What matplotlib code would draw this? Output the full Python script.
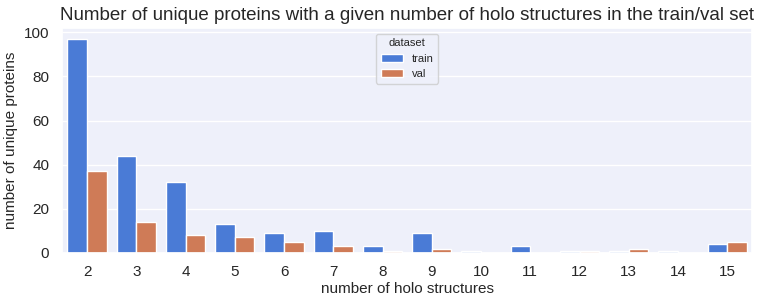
import matplotlib
matplotlib.use("Agg")
import matplotlib.pyplot as plt
import seaborn as sns
import pandas as pd

holo = [2, 3, 4, 5, 6, 7, 8, 9, 10, 11, 12, 13, 14, 15]
train = [97, 44, 32, 13, 9, 10, 3, 9, 1, 3, 1, 1, 1, 4]
val = [37, 14, 8, 7, 5, 3, 1, 2, 0, 0, 1, 2, 0, 5]

df = pd.DataFrame({
    "number of holo structures": holo * 2,
    "count": train + val,
    "dataset": ["train"] * len(holo) + ["val"] * len(holo),
})

sns.set_theme(style="darkgrid", rc={"axes.facecolor": "#eef0fa"})
plt.rcParams['font.family'] = ['Liberation Sans', 'DejaVu Sans']

fig = plt.figure(figsize=(7.61, 3.04), dpi=100)
ax = fig.add_axes([0.082, 0.168, 0.906, 0.74])
sns.barplot(data=df, x="number of holo structures", y="count", hue="dataset",
            palette=["#4a7bd6", "#cf7b57"], saturation=1, ax=ax)
ax.set_ylim(0, 102)
ax.set_ylabel("number of unique proteins", fontsize=11)
ax.set_xlabel("number of holo structures", fontsize=11, labelpad=2)
ax.tick_params(labelsize=11)
ax.tick_params(axis="x", pad=3)
ax.set_title("Number of unique proteins with a given number of holo structures in the train/val set", fontsize=13.5)
leg = ax.legend(title="dataset", loc="upper center", fontsize=8, title_fontsize=8,
                bbox_to_anchor=(0.5, 1.0))
fig.savefig("out.png", dpi=100)
